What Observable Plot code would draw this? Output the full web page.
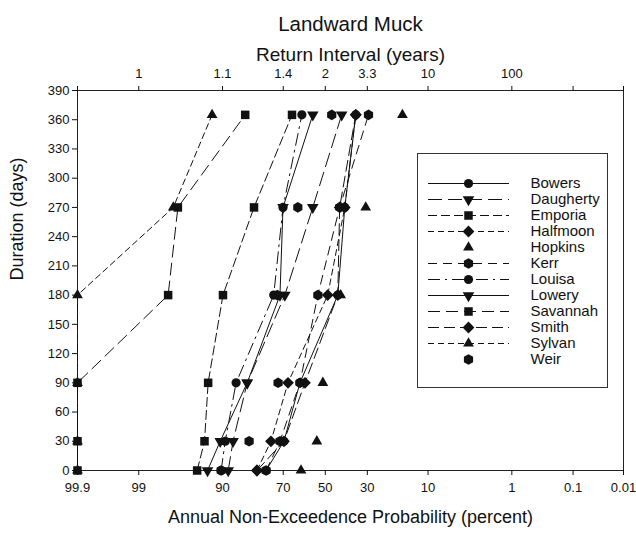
<!DOCTYPE html>
<html>
<head>
<meta charset="utf-8">
<script src="https://cdn.jsdelivr.net/npm/d3@7"></script>
<script src="https://cdn.jsdelivr.net/npm/@observablehq/plot@0.6"></script>
<style>
  body { margin: 0; background: white; }
  #wrap { position: relative; width: 636px; height: 535px; }
  #legend { position: absolute; left: 417px; top: 153px; }
</style>
</head>
<body>
<div id="wrap"><div id="chart"></div><div id="legend"></div></div>
<script>
// ---- data ----
const durations = [0, 30, 90, 180, 270, 365];
const bowers    = [77.0, 69.7, 62.4, 43.8, 40.4, 35.2];
const daugherty = [88.7, 87.5, 83.5, 69.3, 56.2, 41.9];
const emporia   = [94.5, 93.4, 92.8, 89.9, 81.3, 66.1];
const halfmoon  = [80.3, 75.1, 67.9, 48.8, 40.4, 35.2];
const hopkins   = [61.9, 54.2, 51.2, 42.4, 30.7, 16.8];
const kerr      = [77.0, 71.4, 62.4, 53.7, 42.9, 29.5];
const louisa    = [90.3, 89.4, 86.7, 74.0, 70.1, 61.5];
const lowery    = [92.9, 90.5, 83.5, 71.4, 70.1, 56.2];
const savannah  = [99.9, 99.9, 99.9, 97.5, 96.7, 84.1];
const smith     = [80.3, 69.7, 60.0, 43.8, 42.9, 35.2];
const sylvan    = [99.9, 99.9, 99.9, 99.9, 97.1, 92.1];
const weir      = [90.3, 82.9, 72.2, 72.5, 63.4, 46.8];

const bottomTicks = [99.9, 99, 90, 70, 50, 30, 10, 1, 0.1, 0.01];
const bottomLabels = ["99.9", "99", "90", "70", "50", "30", "10", "1", "0.1", "0.01"];
const topLabels = ["", "1", "1.1", "1.4", "2", "3.3", "10", "100", "", ""];
const yTicks = [0, 30, 60, 90, 120, 150, 180, 210, 240, 270, 300, 330, 360, 390];

const title = "Landward Muck";
const topTitle = "Return Interval (years)";
const xTitle = "Annual Non-Exceedence Probability (percent)";
const yTitle = "Duration (days)";

// ---- normal probability scale helper (inverse normal CDF) ----
function probit(p) {
  const a=[-3.969683028665376e+01,2.209460984245205e+02,-2.759285104469687e+02,1.383577518672690e+02,-3.066479806614716e+01,2.506628277459239e+00];
  const b=[-5.447609879822406e+01,1.615858368580409e+02,-1.556989798598866e+02,6.680131188771972e+01,-1.328068155288572e+01];
  const c=[-7.784894002430293e-03,-3.223964580411365e-01,-2.400758277161838e+00,-2.549732539343734e+00,4.374664141464968e+00,2.938163982698783e+00];
  const d=[7.784695709041462e-03,3.224671290700398e-01,2.445134137142996e+00,3.754408661907416e+00];
  const pl = 0.02425, ph = 1 - pl;
  if (p < pl) { const q = Math.sqrt(-2*Math.log(p)); return (((((c[0]*q+c[1])*q+c[2])*q+c[3])*q+c[4])*q+c[5])/((((d[0]*q+d[1])*q+d[2])*q+d[3])*q+1); }
  if (p <= ph) { const q = p - 0.5, r = q*q; return (((((a[0]*r+a[1])*r+a[2])*r+a[3])*r+a[4])*r+a[5])*q/(((((b[0]*r+b[1])*r+b[2])*r+b[3])*r+b[4])*r+1); }
  const q = Math.sqrt(-2*Math.log(1-p)); return -(((((c[0]*q+c[1])*q+c[2])*q+c[3])*q+c[4])*q+c[5])/((((d[0]*q+d[1])*q+d[2])*q+d[3])*q+1);
}
const zOf = p => probit(p / 100);

// custom down-pointing triangle
const triangleDown = {
  draw(ctx, size) {
    const s = Math.sqrt(size * 4 / Math.sqrt(3));
    const h = s * Math.sqrt(3) / 2;
    ctx.moveTo(0, h * 2 / 3);
    ctx.lineTo(-s / 2, -h / 3);
    ctx.lineTo(s / 2, -h / 3);
    ctx.closePath();
  }
};

// ---- styles per series ----
const series = [
  {name: "Bowers",    values: bowers,    symbol: "circle",   r: 4.6, dash: "none"},
  {name: "Daugherty", values: daugherty, symbol: triangleDown, r: 4.3, dash: "14,6"},
  {name: "Emporia",   values: emporia,   symbol: "square",   r: 4.8, dash: "9,4"},
  {name: "Halfmoon",  values: halfmoon,  symbol: "diamond2", r: 5.3, dash: "6,4"},
  {name: "Hopkins",   values: hopkins,   symbol: "triangle", r: 4.0, dash: null},
  {name: "Kerr",      values: kerr,      symbol: "hexagon",  r: 4.6, dash: "9,6"},
  {name: "Louisa",    values: louisa,    symbol: "circle",   r: 4.6, dash: "12,5,2,5"},
  {name: "Lowery",    values: lowery,    symbol: triangleDown, r: 4.3, dash: "none"},
  {name: "Savannah",  values: savannah,  symbol: "square",   r: 4.8, dash: "12,6"},
  {name: "Smith",     values: smith,     symbol: "diamond2", r: 5.3, dash: "11,5"},
  {name: "Sylvan",    values: sylvan,    symbol: "triangle", r: 4.0, dash: "6,4"},
  {name: "Weir",      values: weir,      symbol: "hexagon",  r: 4.6, dash: null}
];

const rowsOf = s => durations.map((d, i) => ({name: s.name, duration: d, p: s.values[i], z: zOf(s.values[i])}));

const bottomZ = bottomTicks.map(zOf);
const ink = "#111";
const font = "'Liberation Sans', Arial, sans-serif";

const lineMarks = series.filter(s => s.dash !== null).map(s =>
  Plot.line(rowsOf(s), {x: "z", y: "duration", stroke: ink, strokeWidth: 1, strokeDasharray: s.dash === "none" ? null : s.dash})
);
const dotMarks = series.map(s =>
  Plot.dot(rowsOf(s), {x: "z", y: "duration", symbol: s.symbol, r: s.r, fill: ink, stroke: "none"})
);

const chart = Plot.plot({
  width: 636, height: 535,
  marginLeft: 77, marginRight: 13, marginTop: 90, marginBottom: 65,
  x: {domain: [zOf(99.9), zOf(0.01)]},
  y: {domain: [0, 390]},
  style: {fontFamily: font, fontSize: "13px", color: ink, background: "white", overflow: "visible"},
  marks: [
    Plot.frame({stroke: "#222", strokeWidth: 1}),
    Plot.axisY(yTicks, {tickSize: 5, tickPadding: 3, label: null}),
    Plot.axisX(bottomZ, {anchor: "bottom", tickSize: 5, tickPadding: 7, label: null,
      tickFormat: z => bottomLabels[bottomZ.indexOf(z)]}),
    Plot.axisX(bottomZ, {anchor: "top", tickSize: 5, tickPadding: 8, label: null,
      tickFormat: z => topLabels[bottomZ.indexOf(z)]}),
    ...lineMarks,
    ...dotMarks,
    Plot.text([title], {text: d => d, frameAnchor: "top", dy: -74, fontSize: 20.5}),
    Plot.text([topTitle], {text: d => d, frameAnchor: "top", dy: -43, fontSize: 19}),
    Plot.text([xTitle], {text: d => d, frameAnchor: "bottom", dy: 52, fontSize: 18}),
    Plot.text([yTitle], {text: d => d, frameAnchor: "left", dx: -60, rotate: -90, fontSize: 18})
  ]
});
document.getElementById("chart").appendChild(chart);

// ---- legend ----
const names = series.map(s => s.name);
const legendMarks = [
  Plot.frame({stroke: "#333", strokeWidth: 1})
];
series.forEach(s => {
  if (s.dash !== null) {
    legendMarks.push(Plot.ruleY([s.name], {y: d => d, x1: 11, x2: 92, stroke: ink, strokeWidth: 1,
      strokeDasharray: s.dash === "none" ? null : s.dash}));
  }
  legendMarks.push(Plot.dot([s.name], {y: d => d, x: 51, symbol: s.symbol, r: s.r, fill: ink, stroke: "none"}));
});
legendMarks.push(Plot.text(names, {y: d => d, x: 113, text: d => d, textAnchor: "start", fontSize: 15}));

const legend = Plot.plot({
  width: 190, height: 234,
  margin: 0,
  x: {domain: [0, 190], range: [0, 190], axis: null},
  y: {type: "point", domain: names, range: [19.3, 217.3], axis: null},
  style: {fontFamily: font, color: ink, background: "white", overflow: "visible"},
  marks: legendMarks
});
document.getElementById("legend").appendChild(legend);
</script>
</body>
</html>
